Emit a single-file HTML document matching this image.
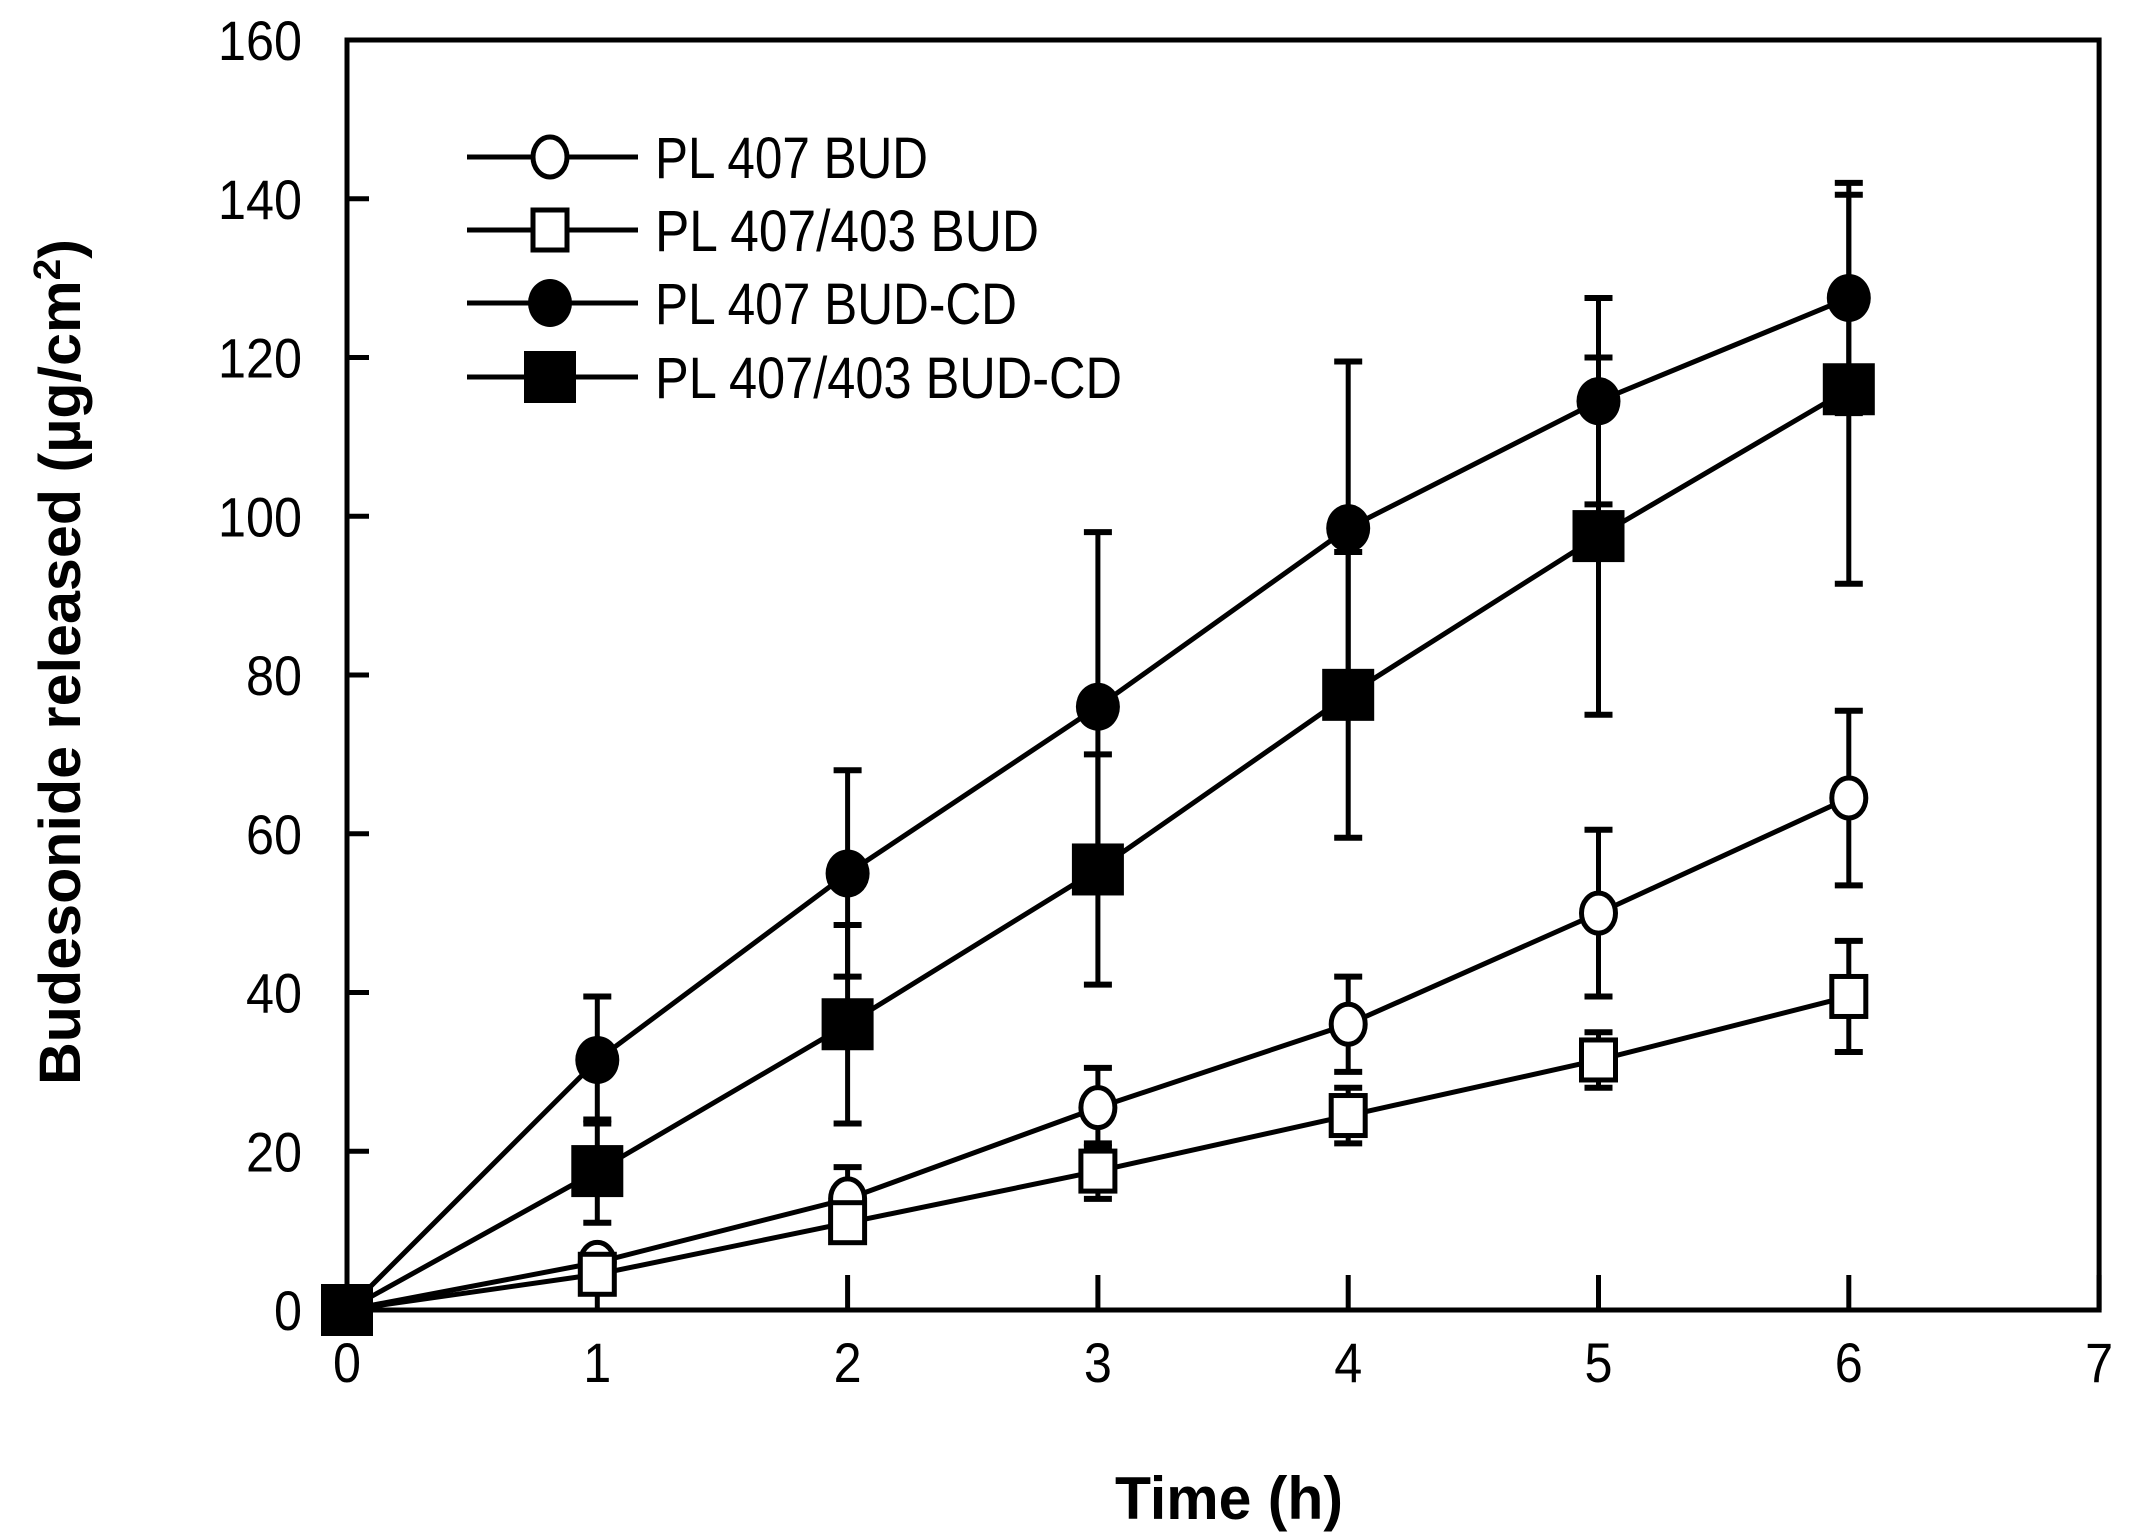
<!DOCTYPE html>
<html><head><meta charset="utf-8"><style>html,body{margin:0;padding:0;background:#fff}svg{display:block}</style></head>
<body>
<svg id="s" xmlns="http://www.w3.org/2000/svg" width="2136" height="1539" viewBox="0 0 2136 1539" font-family="Liberation Sans, sans-serif">
<rect width="2136" height="1539" fill="#fff"/>
</svg>
<script>
const s=document.getElementById('s');const NS='http://www.w3.org/2000/svg';
function el(t,a,txt){const e=document.createElementNS(NS,t);for(const k in a)e.setAttribute(k,a[k]);if(txt!==undefined)e.textContent=txt;s.appendChild(e);return e;}
const X0=347,Y0=1310,XS=250.3,YS=7.9375;
const X=v=>X0+v*XS, Y=v=>Y0-v*YS;
el('rect',{x:X0,y:Y(160),width:X(7)-X0,height:Y0-Y(160),fill:'none',stroke:'#000','stroke-width':5});
for(let v=0;v<=160;v+=20){el('line',{x1:X0,y1:Y(v),x2:X0+22,y2:Y(v),stroke:'#000','stroke-width':5});
 const str=String(v);
 el('text',{x:X0-45,y:Y(v)+20,'font-size':56,'text-anchor':'end',textLength:28*str.length,lengthAdjust:'spacingAndGlyphs'},str);}
for(let v=0;v<=7;v++){el('line',{x1:X(v),y1:Y0,x2:X(v),y2:Y0-35,stroke:'#000','stroke-width':5});
 el('text',{x:X(v),y:Y0+72,'font-size':56,'text-anchor':'middle',textLength:28,lengthAdjust:'spacingAndGlyphs'},String(v));}
el('text',{x:1229,y:1519,'font-size':60,'font-weight':'bold','text-anchor':'middle',textLength:228,lengthAdjust:'spacingAndGlyphs'},'Time (h)');
const yl=el('text',{x:0,y:0,'font-size':58,'font-weight':'bold','text-anchor':'middle',transform:'translate(80,662) rotate(-90)',textLength:846,lengthAdjust:'spacingAndGlyphs'});
yl.innerHTML='Budesonide released (µg/cm<tspan font-size="38" dy="-20">2</tspan><tspan dy="20">)</tspan>';
const t=[0,1,2,3,4,5,6];
const series=[
 {m:'oc',y:[0,6,14,25.5,36,50,64.5],e:[0,1.5,4,5,6,10.5,11]},
 {m:'os',y:[0,4.5,11,17.5,24.5,31.5,39.5],e:[0,2,2,3.5,3.5,3.5,7]},
 {m:'fc',y:[0,31.5,55,76,98.5,114.5,127.5],e:[0,8,13,22,21,13,14.5]},
 {m:'fs',y:[0,17.5,36,55.5,77.5,97.5,116],e:[0,6.5,12.5,14.5,18,22.5,24.5]}];
function marker(m,cx,cy){
 if(m==='oc')el('ellipse',{cx,cy,rx:17,ry:20,fill:'#fff',stroke:'#000','stroke-width':5});
 if(m==='os')el('rect',{x:cx-17,y:cy-20,width:34,height:40,fill:'#fff',stroke:'#000','stroke-width':5});
 if(m==='fc')el('ellipse',{cx,cy,rx:22,ry:24,fill:'#000'});
 if(m==='fs')el('rect',{x:cx-26,y:cy-26,width:52,height:52,fill:'#000'});
}
series.forEach(se=>{
 el('polyline',{points:t.map((v,i)=>X(v)+','+Y(se.y[i])).join(' '),fill:'none',stroke:'#000','stroke-width':5});
 t.forEach((v,i)=>{if(!se.e[i])return;const x=X(v),a=Y(se.y[i]+se.e[i]),b=Y(se.y[i]-se.e[i]);
  el('line',{x1:x,y1:a,x2:x,y2:b,stroke:'#000','stroke-width':5});
  el('line',{x1:x-14,y1:a,x2:x+14,y2:a,stroke:'#000','stroke-width':6});
  el('line',{x1:x-14,y1:b,x2:x+14,y2:b,stroke:'#000','stroke-width':6});});
});
series.forEach(se=>t.forEach((v,i)=>marker(se.m,X(v),Y(se.y[i]))));
const leg=[['oc','PL 407 BUD',157,273],['os','PL 407/403 BUD',230,384],['fc','PL 407 BUD-CD',303,362],['fs','PL 407/403 BUD-CD',377,467]];
leg.forEach(([m,l,y,w])=>{el('line',{x1:467,y1:y,x2:638,y2:y,stroke:'#000','stroke-width':5});marker(m,550,y);
 el('text',{x:655,y:y+21,'font-size':58,textLength:w,lengthAdjust:'spacingAndGlyphs'},l);});
</script>
</body></html>
